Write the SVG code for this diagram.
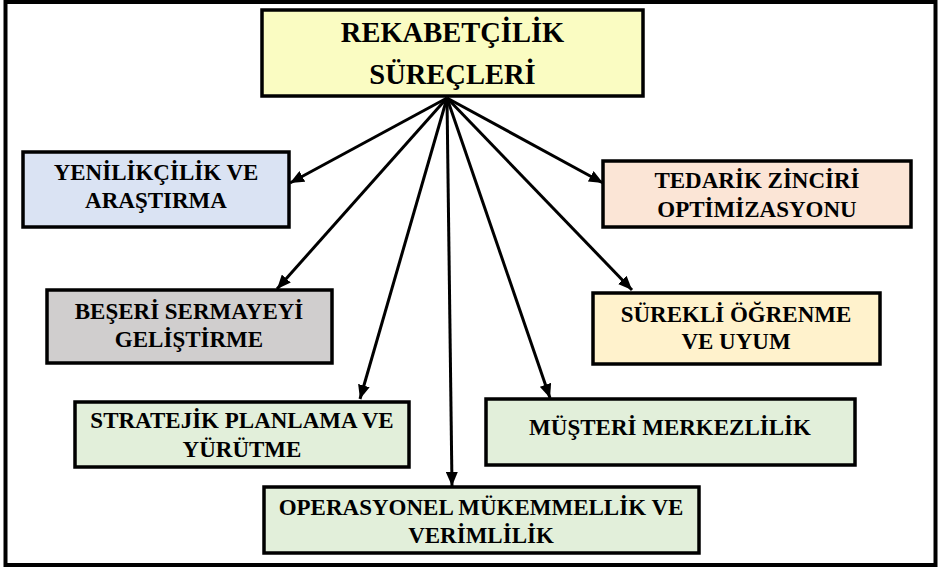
<svg xmlns="http://www.w3.org/2000/svg" width="940" height="570" viewBox="0 0 940 570">
<style>
.box{stroke:#000;stroke-width:3.5}
.t{font-family:"Liberation Serif","Times New Roman",serif;font-weight:bold;font-size:23px;fill:#000;text-anchor:middle}
.title{font-size:28.5px}
.conn line{stroke:#000;stroke-width:3;marker-end:url(#ah)}
</style>
<defs>
<marker id="ah" markerUnits="userSpaceOnUse" markerWidth="14" markerHeight="12" refX="14" refY="6" orient="auto">
<path d="M0,0 L14,6 L0,12 z" fill="#000"/>
</marker>
</defs>
<rect width="940" height="570" fill="#fff"/>
<rect x="5.5" y="2" width="930" height="563" fill="none" stroke="#000" stroke-width="4"/>
<g id="top">
<rect class="box" x="262" y="10" width="381" height="86" fill="#FAFCC2"/>
<text class="t title" x="452.5" y="42">REKABETÇİLİK</text>
<text class="t title" x="452.5" y="84">SÜREÇLERİ</text>
</g>
<g id="yenilik">
<rect class="box" x="23" y="152" width="266" height="75" fill="#DAE3F3"/>
<text class="t" x="156" y="180">YENİLİKÇİLİK VE</text>
<text class="t" x="156" y="208">ARAŞTIRMA</text>
</g>
<g id="tedarik">
<rect class="box" x="603" y="161" width="308" height="66" fill="#FBE5D6"/>
<text class="t" x="757" y="188">TEDARİK ZİNCİRİ</text>
<text class="t" x="757" y="217">OPTİMİZASYONU</text>
</g>
<g id="beseri">
<rect class="box" x="47" y="290" width="285" height="73" fill="#D0CECE"/>
<text class="t" x="189" y="319">BEŞERİ SERMAYEYİ</text>
<text class="t" x="189" y="347">GELİŞTİRME</text>
</g>
<g id="surekli">
<rect class="box" x="593" y="293" width="287" height="71" fill="#FFF2CC"/>
<text class="t" x="736" y="322">SÜREKLİ ÖĞRENME</text>
<text class="t" x="736" y="349">VE UYUM</text>
</g>
<g id="stratejik">
<rect class="box" x="75" y="402" width="334" height="65" fill="#E2EFDA"/>
<text class="t" x="242" y="428">STRATEJİK PLANLAMA VE</text>
<text class="t" x="242" y="457">YÜRÜTME</text>
</g>
<g id="musteri">
<rect class="box" x="486" y="399" width="369" height="66" fill="#E2EFDA"/>
<text class="t" x="670" y="435">MÜŞTERİ MERKEZLİLİK</text>
</g>
<g id="operasyonel">
<rect class="box" x="264" y="487" width="435" height="66" fill="#E2EFDA"/>
<text class="t" x="481" y="515">OPERASYONEL MÜKEMMELLİK VE</text>
<text class="t" x="481" y="543">VERİMLİLİK</text>
</g>
<g class="conn" id="connectors">
<line x1="447" y1="98" x2="290" y2="183"/>
<line x1="447" y1="98" x2="277" y2="289"/>
<line x1="447" y1="98" x2="360" y2="399"/>
<line x1="447" y1="98" x2="452" y2="486"/>
<line x1="447" y1="98" x2="550" y2="398"/>
<line x1="447" y1="98" x2="632" y2="290"/>
<line x1="447" y1="98" x2="603" y2="183"/>
</g>
</svg>
